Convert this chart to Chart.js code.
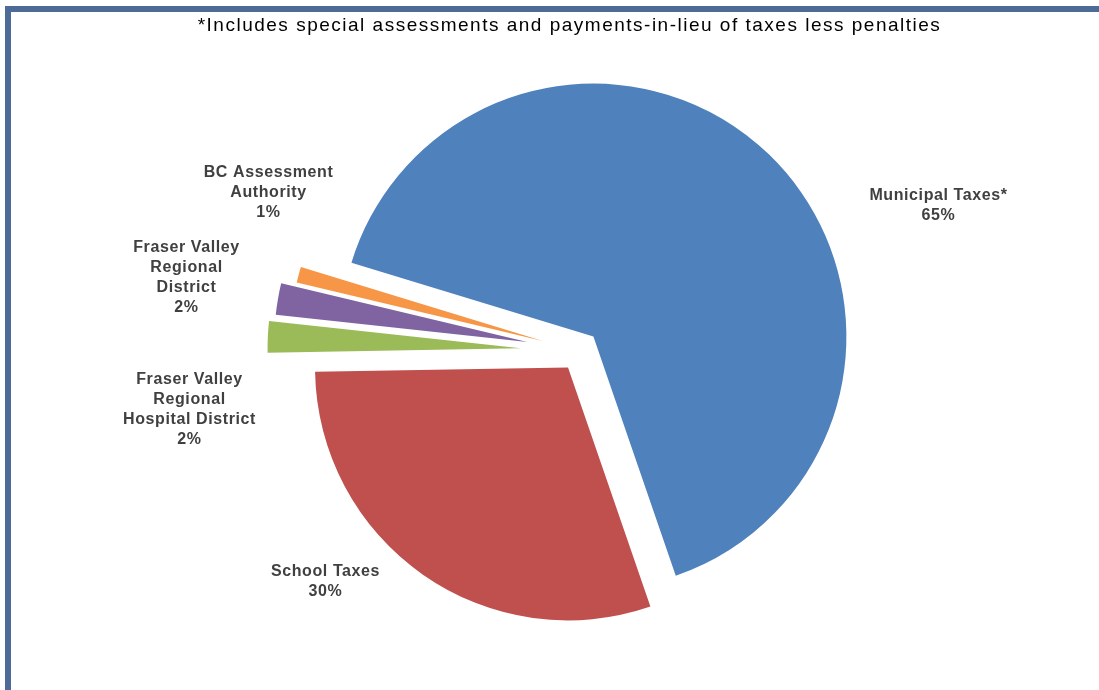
<!DOCTYPE html>
<html>
<head>
<meta charset="utf-8">
<title>Property Tax Distribution</title>
<script src="https://cdn.jsdelivr.net/npm/chart.js@4.4.1/dist/chart.umd.min.js"></script>
<style>
    html, body { margin: 0; padding: 0; background: #ffffff; }
    #wrap { position: relative; width: 1099px; height: 690px; overflow: hidden; }
    #frame {
        position: absolute; left: 5px; top: 6px; right: 0; bottom: 0;
        border-left: 6px solid #4e6b97; border-top: 6px solid #4e6b97;
    }
    #taxChart { position: absolute; left: 0; top: 0; }
</style>
</head>
<body>
<div id="wrap">
    <div id="frame"></div>
    <canvas id="taxChart" width="1099" height="690"></canvas>
</div>
<script>
// Share of the property tax bill by levying body (percent)
const categories = [
    'Municipal Taxes*',
    'School Taxes',
    'Fraser Valley Regional Hospital District',
    'Fraser Valley Regional District',
    'BC Assessment Authority'
];
const shares = [65, 30, 2, 2, 1];

// How each name is broken over lines next to its slice
const labelLines = [
    ['Municipal Taxes*'],
    ['School Taxes'],
    ['Fraser Valley', 'Regional', 'Hospital District'],
    ['Fraser Valley', 'Regional', 'District'],
    ['BC Assessment', 'Authority']
];

const footnote = '*Includes special assessments and payments-in-lieu of taxes less penalties';

// Styling
const sliceColors = ['#4f81bd', '#c0504d', '#9bbb59', '#8064a2', '#f79646'];
const explode = [20, 20, 59, 53, 38];          // px each slice is pulled out
const labelOffsets = [                          // label block centre, relative to pie centre
    [359, -145],
    [-254, 231],
    [-390, 59],
    [-393, -73],
    [-311, -158]
];
const LINE_HEIGHT = 20;

// Pull slices away from the centre along their mid angle
const explodePlugin = {
    id: 'explodeSlices',
    afterDatasetsUpdate(chart) {
        const arcs = chart.getDatasetMeta(0).data;
        arcs.forEach((arc, i) => {
            const mid = (arc.startAngle + arc.endAngle) / 2;
            arc.x += Math.cos(mid) * explode[i];
            arc.y += Math.sin(mid) * explode[i];
        });
    }
};

// Category names + percentages, and the footnote line at the top
const labelPlugin = {
    id: 'sliceLabels',
    afterDraw(chart) {
        const ctx = chart.ctx;
        const area = chart.chartArea;
        const cx = (area.left + area.right) / 2;
        const cy = (area.top + area.bottom) / 2;

        ctx.save();
        ctx.textAlign = 'center';
        ctx.textBaseline = 'middle';

        ctx.font = '19px "Liberation Sans", Arial, sans-serif';
        ctx.fillStyle = '#000000';
        ctx.letterSpacing = '1.5px';
        ctx.fillText(footnote, cx - 10, 26);

        ctx.font = 'bold 16px "Liberation Sans", Arial, sans-serif';
        ctx.fillStyle = '#404040';
        ctx.letterSpacing = '0.6px';
        shares.forEach((value, i) => {
            const lines = [...labelLines[i], value + '%'];
            const x = cx + labelOffsets[i][0];
            const top = cy + labelOffsets[i][1] - (lines.length - 1) * LINE_HEIGHT / 2;
            lines.forEach((text, k) => ctx.fillText(text, x, top + k * LINE_HEIGHT));
        });
        ctx.restore();
    }
};

function initializeChart() {
    const ctx = document.getElementById('taxChart').getContext('2d');
    new Chart(ctx, {
        type: 'pie',
        data: {
            labels: categories,
            datasets: [{
                data: shares,
                backgroundColor: sliceColors,
                borderWidth: 0
            }]
        },
        options: {
            responsive: false,
            animation: false,
            events: [],
            rotation: 287,
            radius: 253,
            layout: {
                padding: { left: 60, right: 0, top: 12, bottom: 0 }
            },
            plugins: {
                legend: { display: false },
                title: { display: false },
                tooltip: { enabled: false }
            }
        },
        plugins: [explodePlugin, labelPlugin]
    });
}

document.addEventListener('DOMContentLoaded', initializeChart);
</script>
</body>
</html>
